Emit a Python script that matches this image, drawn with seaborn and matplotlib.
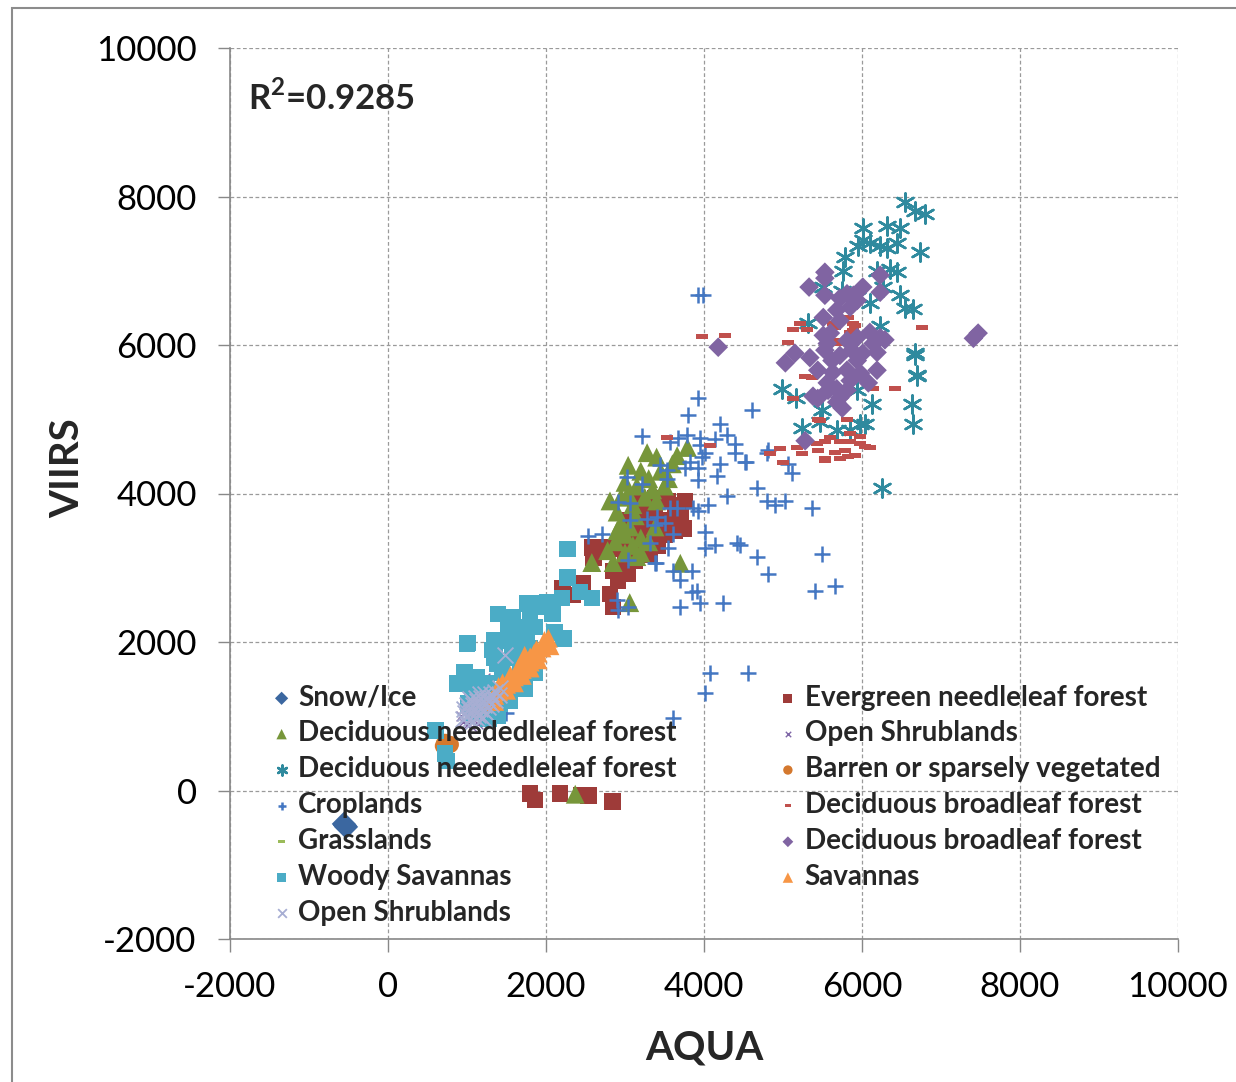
import matplotlib
matplotlib.use("Agg")
import matplotlib.pyplot as plt
import seaborn as sns
from matplotlib.patches import Rectangle

# ---------------- data (AQUA, VIIRS) ----------------
snow_x = [-560, -530, -545]
snow_y = [-450, -490, -470]

evergreen_x = [1800, 1860, 2180, 2450, 2540, 2840,
               2210, 2460, 2340, 2810, 2850, 2910, 3030, 2850, 2580, 2700, 2600, 2750,
               3190, 3380, 3540, 3630, 3700, 3570, 3440, 3320, 3190, 3060, 2940, 2830,
               3000, 3130, 3250, 3420, 3500, 3630, 3700, 3740, 3130, 3060, 3250, 3380,
               3130, 3320, 3000, 3760]
evergreen_y = [-40, -130, -40, -60, -70, -150,
               2730, 2790, 2630, 2650, 2470, 2830, 2920, 2960, 3270, 3270, 3140, 3230,
               3900, 3930, 3900, 3840, 3700, 3640, 3570, 3500, 3430, 3370, 3300, 3260,
               3230, 3100, 3270, 3300, 3440, 3500, 3570, 3530, 3840, 3640, 3700, 3770,
               3570, 3170, 3030, 3900]

dnf_tri_x = [2810, 2900, 2950, 3000, 2880, 2780, 2580, 2850, 3000, 3100, 3200, 3060,
             3130, 3100, 3040, 3150, 3040, 3280, 3400, 3200, 3300, 3350, 3250, 3400,
             3500, 3450, 3600, 3660, 3790, 3550, 3200, 3300, 3380, 3150, 3700, 3060,
             2370, 2950, 3000, 2900]
dnf_tri_y = [3900, 3750, 3600, 3450, 3350, 3230, 3070, 3070, 3200, 3300, 3400, 3550,
             3700, 3850, 4000, 4100, 4380, 4550, 4490, 4300, 4200, 4050, 3950, 3900,
             4100, 4300, 4400, 4510, 4620, 4200, 3200, 3350, 3550, 3150, 3060, 2530,
             -50, 3950, 4150, 3500]

openshrub2_x = [1000, 950, 1060, 1140, 1330, 1400, 1440, 1280, 1050, 1150, 1230, 920, 1350]
openshrub2_y = [880, 920, 860, 900, 1020, 1090, 1180, 1420, 1380, 1450, 1520, 1000, 1430]

dnf_ast_x = [6545, 6670, 6800, 6010, 6320, 6480, 6010, 6100, 5950, 6230, 6440, 6320,
             6730, 5785, 5760, 6190, 6440, 6350, 6270, 6480, 6550, 6650, 6230, 6670,
             6700, 5320, 5510, 5750, 5940, 6100, 6670, 6700, 6630, 6650, 6130, 6040,
             5980, 5850, 5680, 5470, 5240, 5170, 5490, 5940, 6250, 4990]
dnf_ast_y = [7920, 7800, 7770, 7570, 7600, 7570, 7410, 7380, 7340, 7340, 7370, 7310,
             7250, 7180, 7000, 7000, 6980, 7030, 6780, 6670, 6500, 6490, 6260, 5890,
             5590, 6300, 6780, 6730, 6640, 6560, 5860, 5580, 5210, 4930, 5210, 4930,
             4930, 4850, 4850, 4960, 4880, 5290, 5120, 5390, 4070, 5410]

barren_x = [720, 760, 790, 730, 700]
barren_y = [650, 610, 620, 570, 600]

crop_x = [3920, 3990, 3920, 3800, 4610, 4200, 4290, 3220, 3570, 3670, 3790, 3950,
          4140, 4390, 4390, 3950, 4010, 3980, 3820, 3760, 3920, 4200, 4160, 4530,
          4810, 5060, 5110, 3920, 3530, 3220, 4670, 4290, 4800, 4900, 5030, 5370,
          4050, 3860, 3920, 3570, 3660, 4010, 4010, 4140, 4420, 4460, 4670, 4810,
          5490, 5660, 5410, 3610, 3540, 3380, 3610, 3700, 3850, 3850, 3910, 3700,
          3950, 4240, 4080, 4560, 4010, 3610, 1490, 3030, 2910, 3060, 3060, 3280,
          3410, 3380, 3510, 2530, 2710, 3320, 3040, 3390, 2900, 3040, 2910, 3530,
          3440, 4800, 4520]
crop_y = [6670, 6670, 5290, 5060, 5120, 4940, 4790, 4780, 4690, 4750, 4790, 4750,
          4740, 4670, 4550, 4650, 4550, 4490, 4420, 4350, 4350, 4400, 4240, 4420,
          4580, 4400, 4270, 4180, 4190, 4130, 4070, 3970, 3900, 3850, 3900, 3800,
          3840, 3800, 3770, 3810, 3800, 3480, 3270, 3300, 3340, 3300, 3140, 2920,
          3190, 2750, 2690, 3460, 3260, 3060, 2960, 2830, 2960, 2670, 2690, 2470,
          2520, 2520, 1580, 1580, 1310, 980, 1050, 4220, 3880, 3870, 3640, 3660,
          3680, 3570, 3600, 3430, 3460, 3330, 3100, 3060, 2560, 2470, 2430, 4310,
          4380, 4550, 4420]

dbf_dash_x = [5220, 5130, 5300, 4270, 3970, 5060, 6760, 5280, 5370, 5130, 6420, 4960,
              4840, 5180, 5430, 5530, 5440, 5240, 5000, 5530, 5820, 5440, 5810, 4080,
              5820, 5890, 3530, 5600, 5720, 5850, 5980, 6040, 5790, 5660, 5910, 5720,
              5530, 6100, 5980, 5850, 5630, 5890, 5720, 6140, 5470, 5910, 5660, 5850,
              5660]
dbf_dash_y = [6290, 6210, 6210, 6130, 6110, 6030, 6240, 5580, 5560, 5280, 5410, 4610,
              4540, 4620, 4670, 4700, 4580, 4540, 4420, 4440, 4500, 5000, 5000, 4650,
              6370, 6290, 4750, 4750, 4700, 4700, 4670, 4630, 4580, 4550, 4510, 4470,
              4470, 4620, 4770, 4810, 6290, 6200, 6020, 5410, 4980, 6260, 6240, 6170,
              6060]

grass_x = [1350, 1420]
grass_y = [1520, 1600]

dbf_dia_x = [5530, 5530, 5330, 6230, 5530, 6230, 6010, 5810, 5890, 5720, 5940, 5850,
             5510, 5680, 5720, 6100, 6230, 6290, 5940, 5810, 5600, 5560, 4180, 5030,
             5150, 5340, 5530, 5620, 5720, 5870, 6010, 6190, 6140, 5940, 5440, 5630,
             5810, 5980, 6190, 5850, 5560, 5680, 6080, 5380, 5440, 5720, 5810, 5570,
             5750, 5680, 5280, 5510, 7410, 7470]
dbf_dia_y = [6980, 6900, 6780, 6940, 6670, 6710, 6780, 6690, 6670, 6630, 6600, 6510,
             6370, 6470, 6330, 6170, 6100, 6070, 6100, 6060, 6160, 6020, 5970, 5760,
             5890, 5830, 5930, 5790, 5860, 5930, 5890, 5900, 6020, 5790, 5660, 5630,
             5660, 5620, 5660, 5520, 5490, 5410, 5490, 5310, 5280, 5290, 5390, 5390,
             5150, 5230, 4710, 6130, 6090, 6160]

woody_x = [1760, 1960, 2080, 1390, 1580, 1800, 1860, 1670, 1520, 1760, 2110, 2220,
           1350, 1480, 1610, 1010, 1320, 1630, 1800, 1350, 1570, 1670, 1380, 1440,
           970, 1130, 870, 1010, 1250, 1060, 1190, 1010, 1420, 1540, 1730, 1860,
           1390, 1270, 1080, 600, 720, 750, 2010, 1890, 2270, 2270, 2200, 2430,
           2580, 1000]
woody_y = [2520, 2470, 2380, 2380, 2330, 2330, 2200, 2200, 2180, 2110, 2130, 2050,
           2020, 2020, 1990, 1990, 1890, 1890, 1910, 1790, 1790, 1710, 1710, 1590,
           1590, 1520, 1440, 1440, 1440, 1310, 1250, 1170, 1170, 1210, 1370, 1580,
           1010, 970, 1040, 810, 500, 400, 2530, 2520, 3250, 2870, 2590, 2670,
           2590, 1980]

savanna_x = [1300, 1350, 1400, 1450, 1500, 1550, 1600, 1650, 1700, 1750, 1800, 1850,
             1900, 1950, 2000, 2030, 1980, 1450, 1550, 1650, 1750, 1850, 1500, 1600,
             1700, 1800, 1900, 1400, 1700, 1800, 1880, 1350, 2020, 2050, 1730]
savanna_y = [1200, 1280, 1330, 1380, 1430, 1480, 1530, 1580, 1630, 1680, 1730, 1790,
             1850, 1920, 1980, 2050, 2020, 1450, 1550, 1650, 1750, 1850, 1350, 1450,
             1550, 1650, 1760, 1400, 1700, 1800, 1900, 1200, 1960, 1950, 1820]

openshrub1_x = [950, 1000, 1050, 1100, 1150, 1200, 1250, 1300, 1350, 1420, 980, 1030,
                1080, 1130, 1180, 1230, 1020, 1070, 1120, 1170, 1220, 1270, 1320, 1000,
                1060, 1110, 1160, 1060, 1110, 1160, 1210, 1260, 1310, 1360, 1400, 960,
                1040, 1140, 1480, 1240, 1200]
openshrub1_y = [960, 1000, 1050, 1100, 1150, 1200, 1250, 1300, 1330, 1380, 1050, 1100,
                1150, 1200, 1250, 1300, 950, 1000, 1050, 1100, 1150, 1200, 1250, 1150,
                1200, 1250, 1300, 920, 970, 1020, 1070, 1120, 1170, 1220, 1280, 1100,
                1230, 1020, 1820, 1050, 980]

ticks = [-2000, 0, 2000, 4000, 6000, 8000, 10000]
r2_text = r"R$^{\mathbf{2}}$=0.9285"

# ---------------- styling ----------------
sns.set_theme(style="white")
plt.rcParams["font.family"] = ["Lato", "DejaVu Sans"]
plt.rcParams["axes.unicode_minus"] = False
plt.rcParams["mathtext.fontset"] = "custom"
plt.rcParams["mathtext.rm"] = "Lato"
plt.rcParams["mathtext.bf"] = "Lato:bold"

fig = plt.figure(figsize=(12.36, 10.82), dpi=100)
ax = fig.add_axes([230 / 1236, 1 - 939 / 1082, 948 / 1236, 891 / 1082])

dash_marker = [(-1, -0.42), (1, -0.42), (1, 0.42), (-1, 0.42), (-1, -0.42)]

# plotting order (later = on top)
series = [
    ("Snow/Ice", snow_x, snow_y, "D", "#3B67A0", 150, 0, "none"),
    ("Evergreen needleleaf forest", evergreen_x, evergreen_y, "s", "#9E3B39", 140, 0, "none"),
    ("Deciduous neededleleaf forest", dnf_tri_x, dnf_tri_y, "^", "#77963A", 185, 0, "none"),
    ("Open Shrublands", openshrub2_x, openshrub2_y, "x", "#7E66A6", 50, 1.0, None),
    ("Deciduous neededleleaf forest", dnf_ast_x, dnf_ast_y, (6, 2, 0), "#2F8A9E", 170, 1.8, None),
    ("Barren or sparsely vegetated", barren_x, barren_y, "o", "#D4782E", 150, 0, "none"),
    ("Croplands", crop_x, crop_y, "+", "#4477C2", 130, 1.8, None),
    ("Deciduous broadleaf forest", dbf_dash_x, dbf_dash_y, dash_marker, "#C0504D", 75, 0, "none"),
    ("Grasslands", grass_x, grass_y, dash_marker, "#9BBB59", 75, 0, "none"),
    ("Deciduous broadleaf forest", dbf_dia_x, dbf_dia_y, "D", "#8064A2", 100, 0, "none"),
    ("Woody Savannas", woody_x, woody_y, "s", "#4BACC6", 140, 0, "none"),
    ("Savannas", savanna_x, savanna_y, "^", "#F79646", 185, 0, "none"),
    ("Open Shrublands", openshrub1_x, openshrub1_y, "x", "#A7AED3", 130, 1.3, None),
]

for label, xs, ys, mk, col, size, lw, ec in series:
    kw = dict(x=xs, y=ys, marker=mk, s=size, ax=ax, label=label, zorder=3)
    if ec == "none":
        kw.update(color=col, edgecolor="none", linewidth=0)
    else:
        kw.update(color=col, linewidth=lw)
    sns.scatterplot(**kw)

ax.set_xlim(-2000, 10000)
ax.set_ylim(-2000, 10000)
ax.set_xticks(ticks)
ax.set_yticks(ticks)
ax.set_xticklabels([str(t) for t in ticks])
ax.set_yticklabels([str(t) for t in ticks])

ax.grid(True, color="#9a9a9a", linestyle=(0, (3, 2)), linewidth=0.9)
ax.set_axisbelow(True)
for side in ["top", "right"]:
    ax.spines[side].set_visible(False)
for side in ["left", "bottom"]:
    ax.spines[side].set_color("#888888")
    ax.spines[side].set_linewidth(1.2)

ax.tick_params(axis="both", which="major", direction="out", length=9, width=1.0,
               color="#888888", labelsize=25, labelcolor="black")
ax.tick_params(axis="y", pad=15, left=True)
ax.tick_params(axis="x", pad=14, bottom=True)

ax.set_xlabel("AQUA", fontsize=29, fontweight="bold")
ax.set_ylabel("VIIRS", fontsize=29, fontweight="bold")
ax.xaxis.label.set_va("center")
ax.yaxis.label.set_va("center")
ax.xaxis.set_label_coords(0.5, (939 - 1048) / 891)
ax.yaxis.set_label_coords((68 - 230) / 948, (939 - 468) / 891)

ax.text(0.0195, 0.965, r2_text, transform=ax.transAxes, fontsize=25,
        fontweight="bold", ha="left", va="top")

# legend: reorder into the two columns
handles, labels = ax.get_legend_handles_labels()
order = [0, 2, 4, 6, 8, 10, 12, 1, 3, 5, 7, 9, 11]
leg = ax.legend([handles[i] for i in order], [labels[i] for i in order],
                ncol=2, loc="upper left", bbox_to_anchor=(0.031, 0.298),
                frameon=False, prop={"weight": "bold", "size": 20},
                markerscale=0.55, handletextpad=0.2, handlelength=0.8,
                columnspacing=3.6, labelspacing=0.355, borderaxespad=0)

fig.patches.append(Rectangle((12 / 1236, -0.01), 1.5, 1 - 8 / 1082 + 0.01,
                             transform=fig.transFigure, fill=False,
                             edgecolor="#8c8c8c", linewidth=1.5))

fig.savefig("out.png", dpi=100, facecolor="white")
